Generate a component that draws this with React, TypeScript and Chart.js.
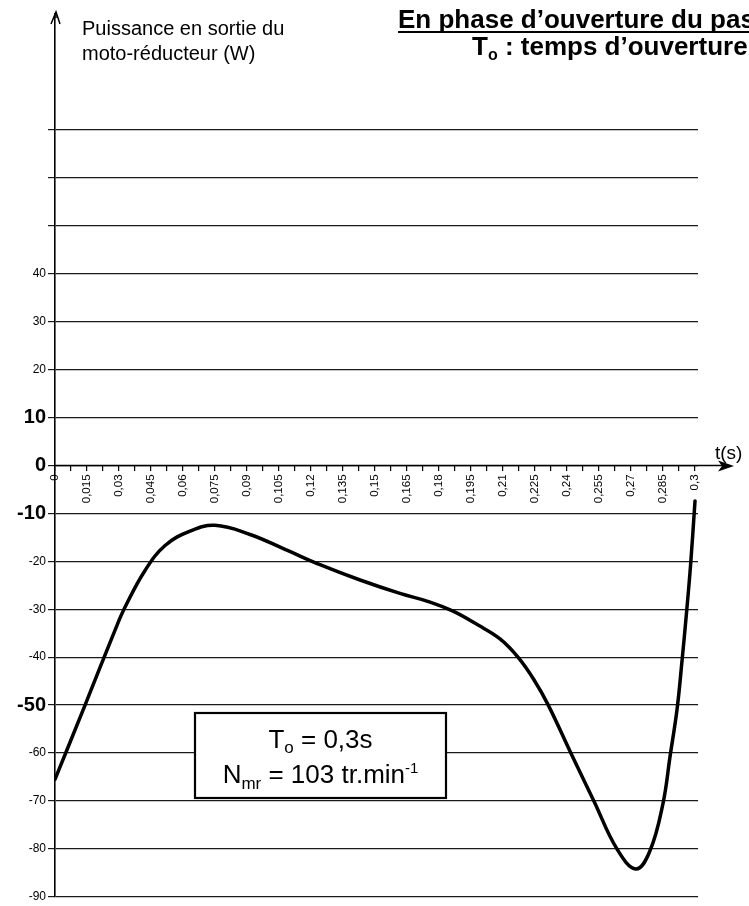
import React, { useEffect, useRef } from 'react';
import { Chart, registerables } from 'chart.js';

Chart.register(...registerables);

// ---- data ----
const T_VALUES = [
  0, 0.0139, 0.0281, 0.0328, 0.0422, 0.0516, 0.0633, 0.075, 0.0914, 0.1078, 0.1242, 0.143,
  0.1617, 0.1758, 0.1866, 0.1983, 0.2086, 0.217, 0.2245, 0.2311, 0.2419, 0.2527, 0.2634,
  0.2723, 0.2789, 0.285, 0.2883, 0.2916, 0.2939, 0.296, 0.2979, 0.3,
];
const P_VALUES = [
  -65.5, -50.2, -34.4, -29.6, -21.9, -16.7, -13.7, -12.5, -14.4, -17.5, -20.7, -23.9,
  -26.7, -28.5, -30.4, -33.3, -36.2, -40.0, -44.7, -49.9, -60.1, -70.1, -80.0,
  -84.2, -80.4, -70.5, -60.7, -50.8, -40.8, -30.8, -20.9, -7.4,
];

const X_TICKS = [0, 0.015, 0.03, 0.045, 0.06, 0.075, 0.09, 0.105, 0.12, 0.135, 0.15, 0.165, 0.18, 0.195, 0.21, 0.225, 0.24, 0.255, 0.27, 0.285, 0.3];
const X_TICK_LABELS = ['0', '0,015', '0,03', '0,045', '0,06', '0,075', '0,09', '0,105', '0,12', '0,135', '0,15', '0,165', '0,18', '0,195', '0,21', '0,225', '0,24', '0,255', '0,27', '0,285', '0,3'];
const Y_TICKS = [-90, -80, -70, -60, -50, -40, -30, -20, -10, 0, 10, 20, 30, 40, 50, 60, 70];
const Y_LABELED_MAX = 40;
const Y_BIG_LABELS = [10, 0, -10, -50];

const Y_CAPTION = ['Puissance en sortie du', 'moto-réducteur (W)'];
const TITLE_1 = 'En phase d’ouverture du pas';
const TITLE_2 = ' : temps d’ouverture';
const X_NAME = 't(s)';

const FONT = '"Liberation Sans", Arial, sans-serif';

type Run = [string, number, string, number];

function drawRuns(ctx: CanvasRenderingContext2D, runs: Run[], x: number, baseline: number, align: 'left' | 'center') {
  const widths = runs.map(([t, s, w]) => {
    ctx.font = `${w} ${s}px ${FONT}`;
    return ctx.measureText(t).width;
  });
  const total = widths.reduce((a, b) => a + b, 0);
  let cx = align === 'center' ? x - total / 2 : x;
  ctx.textAlign = 'left';
  ctx.textBaseline = 'alphabetic';
  runs.forEach(([t, s, w, dy], i) => {
    ctx.font = `${w} ${s}px ${FONT}`;
    ctx.fillText(t, cx, baseline + dy);
    cx += widths[i];
  });
  return total;
}

const decorPlugin = {
  id: 'decor',
  afterDraw(chart: any) {
    const { ctx, chartArea, scales } = chart;
    const ys = scales.y;
    const y0 = ys.getPixelForValue(0);
    const xl = chartArea.left;
    ctx.save();
    ctx.fillStyle = '#000';
    ctx.strokeStyle = '#000';

    // x axis line + arrow
    ctx.lineWidth = 1.6;
    ctx.beginPath();
    ctx.moveTo(xl, y0);
    ctx.lineTo(726, y0);
    ctx.stroke();
    ctx.beginPath();
    ctx.moveTo(734, y0 + 0.5);
    ctx.lineTo(718, y0 - 5);
    ctx.lineTo(722, y0 + 0.5);
    ctx.lineTo(718, y0 + 6);
    ctx.closePath();
    ctx.fill();

    // y axis arrow (chevron)
    ctx.lineWidth = 1.5;
    ctx.beginPath();
    ctx.moveTo(xl - 4, 24);
    ctx.lineTo(xl + 1, 12);
    ctx.lineTo(xl + 5, 24);
    ctx.stroke();
    ctx.beginPath();
    ctx.moveTo(xl + 1, 12);
    ctx.lineTo(xl + 1, chartArea.top + 4);
    ctx.stroke();

    // y caption
    ctx.font = `normal 20px ${FONT}`;
    ctx.textAlign = 'left';
    ctx.textBaseline = 'alphabetic';
    ctx.fillText(Y_CAPTION[0], 82, 35);
    ctx.fillText(Y_CAPTION[1], 82, 60);

    // title
    ctx.font = `bold 26px ${FONT}`;
    ctx.fillText(TITLE_1, 398, 28);
    const w1 = ctx.measureText(TITLE_1).width;
    ctx.lineWidth = 2;
    ctx.beginPath();
    ctx.moveTo(398, 32);
    ctx.lineTo(398 + w1, 32);
    ctx.stroke();
    drawRuns(ctx, [['T', 26, 'bold', 0], ['o', 16, 'bold', 5], [TITLE_2, 26, 'bold', 0]], 472, 55, 'left');

    // x axis name
    ctx.font = `normal 19px ${FONT}`;
    ctx.fillText(X_NAME, 715, 459);

    // info box
    const bx = 195, by = 713, bw = 251, bh = 85;
    ctx.fillStyle = '#fff';
    ctx.fillRect(bx, by, bw, bh);
    ctx.lineWidth = 2.2;
    ctx.strokeStyle = '#000';
    ctx.strokeRect(bx, by, bw, bh);
    ctx.fillStyle = '#000';
    const cx = bx + bw / 2;
    drawRuns(ctx, [['T', 26, 'normal', 0], ['o', 17, 'normal', 5], [' = 0,3s', 26, 'normal', 0]], cx, 748, 'center');
    drawRuns(ctx, [['N', 26, 'normal', 0], ['mr', 17, 'normal', 6], [' = 103 tr.min', 26, 'normal', 0], ['-1', 15, 'normal', -10]], cx, 783, 'center');

    ctx.restore();
  },
};

export default function App() {
  const ref = useRef<HTMLCanvasElement | null>(null);

  useEffect(() => {
    document.body.style.margin = '0';
    const canvas = ref.current;
    if (!canvas) return;

    const xTickValues: number[] = [];
    X_TICKS.forEach((v, i) => {
      xTickValues.push(v);
      if (i < X_TICKS.length - 1) xTickValues.push((v + X_TICKS[i + 1]) / 2);
    });

    const chart = new Chart(canvas, {
      type: 'line',
      data: {
        datasets: [
          {
            data: T_VALUES.map((t, i) => ({ x: t, y: P_VALUES[i] })),
            borderColor: '#000',
            borderWidth: 3.5,
            pointRadius: 0,
            fill: false,
            tension: 0.4,
            borderJoinStyle: 'round',
            borderCapStyle: 'round',
          },
        ],
      },
      options: {
        responsive: false,
        maintainAspectRatio: false,
        animation: false,
        layout: { padding: { left: 0, right: 51, top: 14, bottom: 5 } },
        plugins: { legend: { display: false }, tooltip: { enabled: false } },
        scales: {
          x: {
            type: 'linear',
            min: 0,
            max: 0.3014,
            position: { y: 0 },
            afterFit: (s: any) => { s.height = 0; },
            afterBuildTicks: (s: any) => { s.ticks = xTickValues.map((v) => ({ value: v })); },
            border: { display: false },
            grid: { display: true, drawOnChartArea: false, drawTicks: true, tickLength: 6, color: '#000', lineWidth: 1.2 },
            ticks: {
              autoSkip: false,
              minRotation: 90,
              maxRotation: 90,
              padding: 3,
              color: '#000',
              font: { family: FONT, size: 11.5 },
              callback: (value: any) => {
                const idx = X_TICKS.findIndex((t) => Math.abs(t - Number(value)) < 1e-6);
                return idx >= 0 ? X_TICK_LABELS[idx] : '';
              },
            },
          },
          y: {
            type: 'linear',
            min: -90,
            max: 94.2,
            position: 'left',
            afterFit: (s: any) => { s.width = 55; },
            afterBuildTicks: (s: any) => { s.ticks = Y_TICKS.map((v) => ({ value: v })); },
            border: { display: true, color: '#000', width: 1.6 },
            grid: { display: true, drawTicks: true, tickLength: 7, color: '#1a1a1a', lineWidth: 1.2 },
            ticks: {
              padding: 2,
              color: '#000',
              font: (c: any) =>
                c.tick && Y_BIG_LABELS.includes(c.tick.value)
                  ? { family: FONT, size: 20, weight: 'bold' }
                  : { family: FONT, size: 12 },
              callback: (value: any) => (Number(value) > Y_LABELED_MAX ? '' : String(value)),
            },
          },
        },
      },
      plugins: [decorPlugin],
    });

    return () => chart.destroy();
  }, []);

  return (
    <div style={{ position: 'absolute', left: 0, top: 0, width: 749, height: 906, background: '#fff' }}>
      <canvas ref={ref} width={749} height={906} style={{ display: 'block' }} />
    </div>
  );
}
